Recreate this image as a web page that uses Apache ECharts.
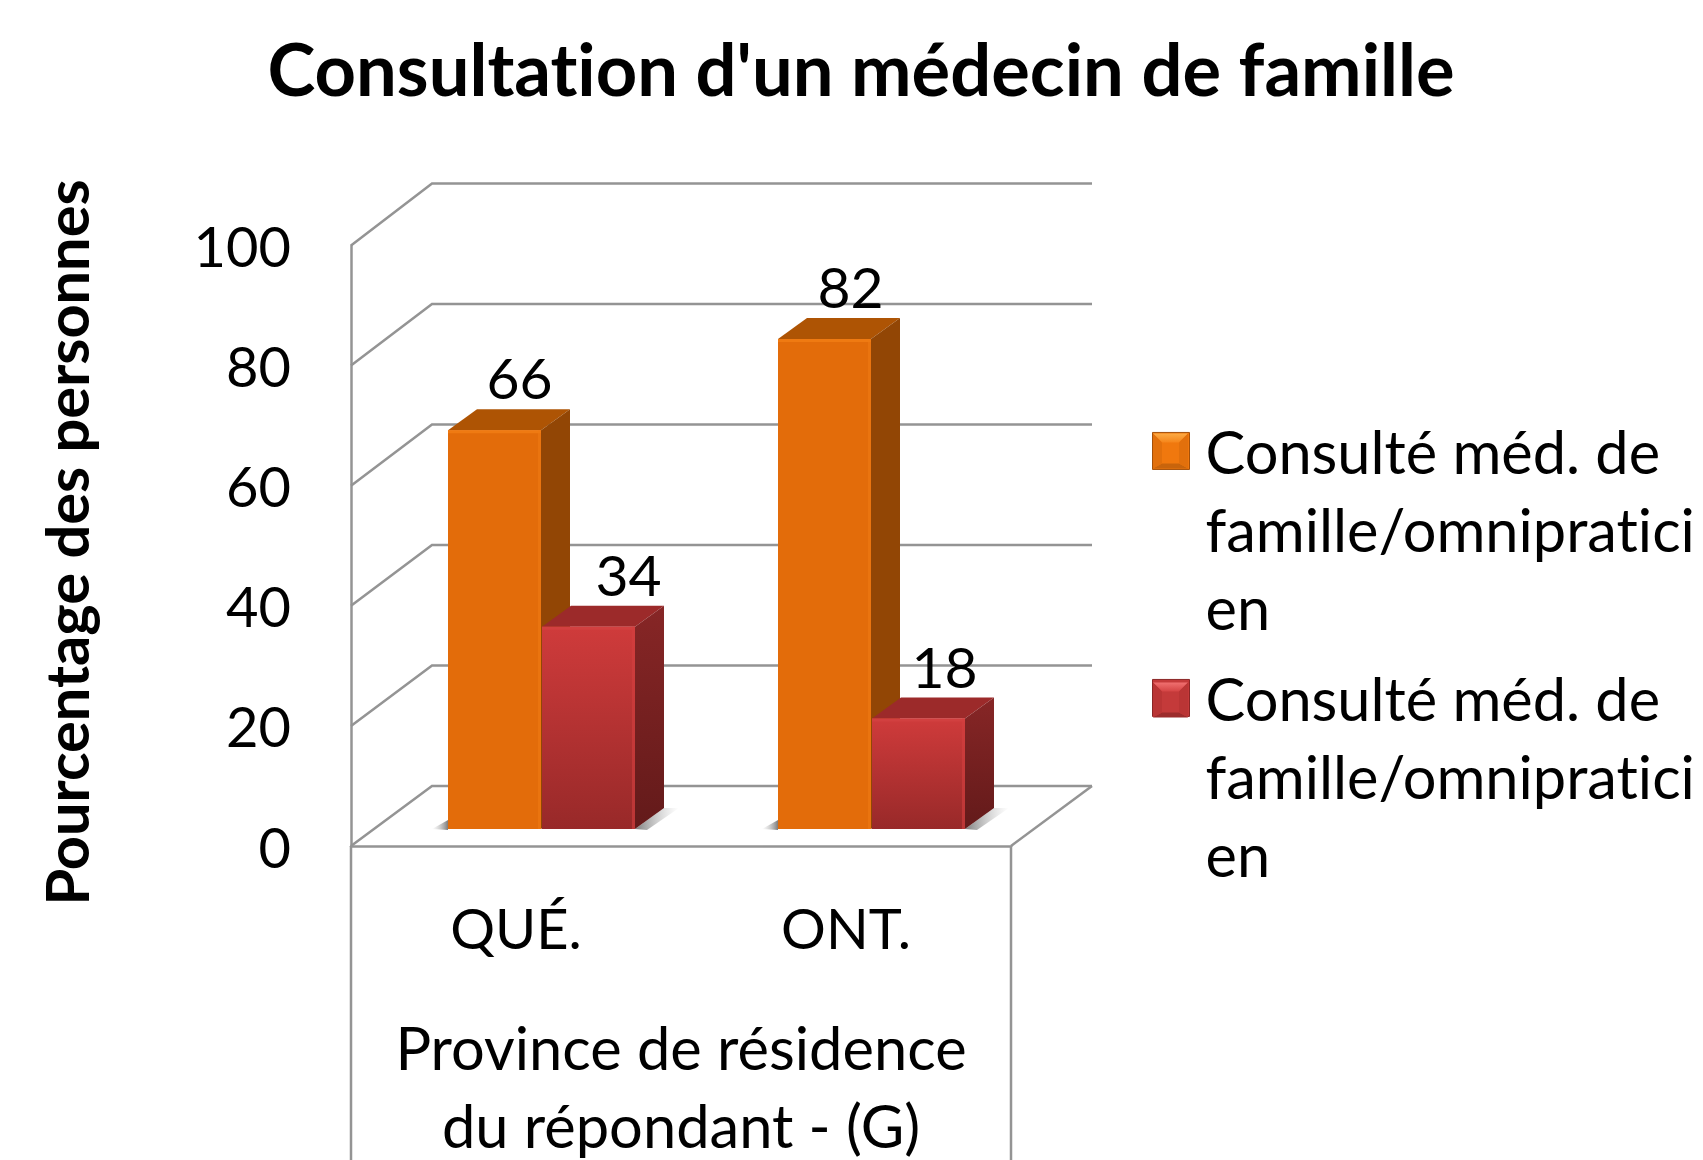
<!DOCTYPE html>
<html>
<head>
<meta charset="utf-8">
<style>
  html, body { margin: 0; padding: 0; background: #fff; }
  #chart { width: 1703px; height: 1160px; overflow: hidden; }
  #chart text { font-variant-ligatures: none; }
</style>
<script src="https://cdn.jsdelivr.net/npm/echarts@6/dist/echarts.min.js"></script>
</head>
<body>
<div id="chart"></div>
<script>
var categories = ['QUÉ.', 'ONT.']
// bar heights, the labels show them rounded
var seriesA = [66.4, 81.6]
var seriesB = [33.7, 18.4]
var yTicks = [0, 20, 40, 60, 80, 100]
var seriesNames = ['Consulté méd. de famille/omnipraticien', 'Consulté méd. de famille/omnipraticien ']
var legendLines = '\n\nConsulté méd. de\nfamille/omnipratici\nen'

// perspective of the fake 3d box, in pixels
var FONT = 'Lato, sans-serif'
var LINE = '#949494'
var wallDx = 81, wallDy = -60
var barDx = 25, barDy = -17
var sideDx = 29, sideDy = -21
var barW = 93
var labelShift = [[25, 26], [40, 26]]

var paletteA = { front: '#e36c0a', edge: '#ef7a12', side: '#924605', top: '#ae5404' }
var paletteB = {
  front: { type: 'linear', x: 0, y: 0, x2: 0, y2: 1, colorStops: [{ offset: 0, color: '#cf3b3b' }, { offset: 1, color: '#982929' }] },
  edge: '#d24040',
  side: { type: 'linear', x: 0, y: 0, x2: 0, y2: 1, colorStops: [{ offset: 0, color: '#872626' }, { offset: 1, color: '#631a1a' }] },
  top: '#9c2a2a'
}

function renderWall (params, api) {
  var v = api.value(0)
  var p = api.coord([0, v])
  var cs = params.coordSys
  var left = cs.x
  var right = cs.x + cs.width
  var backY = p[1] + wallDy - v * 0.02
  var style = { stroke: LINE, lineWidth: 2.5, fill: null }
  var children = [{
    type: 'polyline',
    shape: { points: [[left, p[1]], [left + wallDx, backY], [right + wallDx, backY]] },
    style: style
  }]
  if (v === 0) {
    // floor edge and the two long drops under the axis
    children.push({ type: 'line', shape: { x1: right + wallDx, y1: backY, x2: right, y2: p[1] }, style: style })
    children.push({ type: 'line', shape: { x1: left, y1: p[1], x2: left, y2: 1160 }, style: style })
    children.push({ type: 'line', shape: { x1: right, y1: p[1], x2: right, y2: 1160 }, style: style })
  }
  return { type: 'group', children: children }
}

function makeBarRender (idx, pal) {
  return function (params, api) {
    var c = api.value(0)
    var top = api.coord([c, api.value(1)])
    var base = api.coord([c, 0])
    var x0 = top[0] + barDx + (idx - 1) * barW + idx
    var x1 = x0 + barW
    var yt = top[1] + barDy
    var yb = base[1] + barDy
    var children = []
    var stops = [{ offset: 0, color: '#7d7d7d' }, { offset: 1, color: 'rgba(190,190,190,0)' }]
    if (idx === 0) {
      children.push({
        type: 'polygon',
        shape: { points: [[x0 - 16, yb], [x0, yb - 9], [x0, yb + 1]] },
        style: { fill: { type: 'linear', x: 1, y: 0, x2: 0, y2: 0, colorStops: stops } }
      })
    } else {
      children.push({
        type: 'polygon',
        shape: { points: [[x1, yb], [x1 + sideDx, yb + sideDy], [x1 + sideDx + 15, yb + sideDy], [x1 + 12, yb + 1]] },
        style: { fill: { type: 'linear', x: 0, y: 0, x2: 1, y2: 0, colorStops: stops } }
      })
    }
    children.push({
      type: 'polygon',
      shape: { points: [[x0, yt], [x0 + sideDx, yt + sideDy], [x1 + sideDx, yt + sideDy], [x1, yt]] },
      style: { fill: pal.top }
    })
    children.push({
      type: 'polygon',
      shape: { points: [[x1, yt], [x1 + sideDx, yt + sideDy], [x1 + sideDx, yb + sideDy], [x1, yb]] },
      style: { fill: pal.side }
    })
    children.push({ type: 'rect', shape: { x: x0, y: yt, width: barW, height: yb - yt }, style: { fill: pal.front } })
    children.push({ type: 'rect', shape: { x: x0, y: yt, width: barW, height: 3 }, style: { fill: pal.edge } })
    children.push({ type: 'rect', shape: { x: x1 - 3, y: yt, width: 3, height: yb - yt }, style: { fill: pal.edge, opacity: 0.6 } })
    children.push({
      type: 'text',
      style: {
        text: String(Math.round(api.value(1))),
        x: x0 + barW / 2 + labelShift[idx][c],
        y: yt - 53,
        align: 'center',
        verticalAlign: 'middle',
        font: '57px ' + FONT,
        fill: '#000'
      }
    })
    return { type: 'group', children: children }
  }
}

function barData (values) {
  return values.map(function (v, i) { return [i, v] })
}

// bevel drawn over a legend swatch
function bevel (x, y, s, colors) {
  var d = 10
  function tri (points, fill) {
    return { type: 'polygon', z: 20, silent: true, shape: { points: points }, style: { fill: fill } }
  }
  return [
    tri([[x + 1, y + 1], [x + s - 1, y + 1], [x + s - d, y + d], [x + d, y + d]],
      { type: 'linear', x: 0, y: 0, x2: 0, y2: 1, colorStops: [{ offset: 0, color: colors[0] }, { offset: 1, color: colors[1] }] }),
    tri([[x + 1, y + s - 1], [x + s - 1, y + s - 1], [x + s - d, y + s - 6], [x + d, y + s - 6]], colors[2]),
    tri([[x + 1, y + 1], [x + d, y + d], [x + d, y + s - 6], [x + 1, y + s - 1]], colors[3]),
    tri([[x + s - 1, y + 1], [x + s - d, y + d], [x + s - d, y + s - 6], [x + s - 1, y + s - 1]], colors[3])
  ]
}

var chart = echarts.init(document.getElementById('chart'), null, { renderer: 'svg' })
chart.setOption({
  animation: false,
  backgroundColor: '#fff',
  textStyle: { fontFamily: FONT },
  title: {
    text: "Consultation d'un médecin de famille",
    left: 856,
    top: 62.5,
    textAlign: 'center',
    textVerticalAlign: 'middle',
    textStyle: { fontSize: 72.3, fontWeight: 'bold', color: '#000', fontFamily: FONT }
  },
  grid: { left: 351, width: 660, top: 245.5, height: 600.5, outerBoundsMode: 'none' },
  legend: [
    {
      left: 1152, top: 252.7, padding: 0, icon: 'rect', itemWidth: 37, itemHeight: 37, selectedMode: false,
      data: [{ name: seriesNames[0], itemStyle: { color: '#f0780e', borderColor: '#a3500a', borderWidth: 1 } }],
      formatter: function () { return legendLines },
      textStyle: { fontSize: 59.5, lineHeight: 78, color: '#000', padding: [0, 0, 6.5, 11] }
    },
    {
      left: 1152, top: 499.7, padding: 0, icon: 'rect', itemWidth: 37, itemHeight: 37, selectedMode: false,
      data: [{ name: seriesNames[1], itemStyle: { color: '#c43a3a', borderColor: '#8a2626', borderWidth: 1 } }],
      formatter: function () { return legendLines },
      textStyle: { fontSize: 59.5, lineHeight: 78, color: '#000', padding: [0, 0, 6.5, 11] }
    }
  ],
  graphic: bevel(1152, 432.5, 37, ['#fcab45', '#f5851a', '#c8640c', '#e2700c'])
    .concat(bevel(1152, 681.5, 37, ['#f07070', '#d44444', '#9c2c2c', '#ba3535'])),
  xAxis: {
    type: 'category',
    data: categories,
    axisLine: { lineStyle: { color: LINE, width: 2.5 } },
    axisTick: { show: false },
    axisLabel: { fontSize: 56, color: '#000', margin: 53 },
    name: 'Province de résidence\ndu répondant - (G)',
    nameLocation: 'middle',
    nameGap: 162,
    nameTextStyle: { fontSize: 59.6, color: '#000', lineHeight: 78, fontFamily: FONT }
  },
  yAxis: {
    type: 'value',
    min: 0,
    max: 100,
    interval: 20,
    axisLine: { show: true, lineStyle: { color: LINE, width: 2.5 } },
    axisTick: { show: false },
    splitLine: { show: false },
    axisLabel: { fontSize: 56, color: '#000', margin: 60 },
    name: 'Pourcentage des personnes',
    nameLocation: 'middle',
    nameGap: 255,
    nameRotate: 90,
    nameTextStyle: { fontSize: 59.5, fontWeight: 'bold', color: '#000', fontFamily: FONT, padding: [0, 0, 0, 6.5] }
  },
  series: [
    {
      type: 'custom',
      silent: true,
      clip: false,
      renderItem: renderWall,
      encode: { x: 1, y: 0 },
      data: yTicks.map(function (t) { return [t, 0] })
    },
    {
      name: seriesNames[0],
      type: 'custom',
      clip: false,
      renderItem: makeBarRender(0, paletteA),
      itemStyle: { color: '#e36c0a' },
      encode: { x: 0, y: 1 },
      data: barData(seriesA)
    },
    {
      name: seriesNames[1],
      type: 'custom',
      clip: false,
      renderItem: makeBarRender(1, paletteB),
      itemStyle: { color: '#bd3434' },
      encode: { x: 0, y: 1 },
      data: barData(seriesB)
    }
  ]
})
</script>
</body>
</html>
